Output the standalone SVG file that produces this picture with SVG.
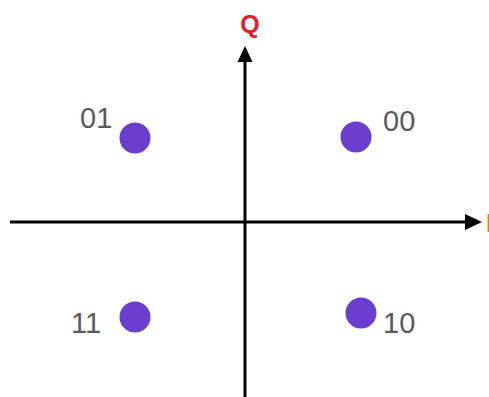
<svg xmlns="http://www.w3.org/2000/svg" width="489" height="397" viewBox="0 0 489 397">
<style>
.lbl{font-family:"Liberation Sans",Arial,sans-serif;font-size:29px;fill:#5a5a5a}
.ax{font-family:"Liberation Sans",Arial,sans-serif;font-size:25px;font-weight:bold;fill:#e0202a}
.dot{fill:#6a3fcf}
.axis{stroke:#000;stroke-width:3;fill:none}
</style>
<rect width="489" height="397" fill="#fff"/>
<g id="connectors">
<line class="axis" x1="10" y1="222" x2="468" y2="222"/>
<path d="M465,214 L482,222 L465,230 Z" fill="#000"/>
<line class="axis" x1="245" y1="397" x2="245" y2="60"/>
<path d="M237.5,62 L245,46 L252.5,62 Z" fill="#000"/>
</g>
<g id="axis-q"><text class="ax" x="250" y="33" text-anchor="middle">Q</text></g>
<g id="axis-i"><text class="ax" x="486" y="232" fill="#f07030" style="fill:#f07030">I</text></g>
<g id="p01"><circle class="dot" cx="135" cy="138" r="15.5"/><text class="lbl" x="80" y="128">01</text></g>
<g id="p00"><circle class="dot" cx="356" cy="137" r="15.5"/><text class="lbl" x="383" y="131">00</text></g>
<g id="p11"><circle class="dot" cx="135" cy="317" r="15.5"/><text class="lbl" x="71" y="333">11</text></g>
<g id="p10"><circle class="dot" cx="361" cy="313" r="15.5"/><text class="lbl" x="383" y="333">10</text></g>
</svg>
